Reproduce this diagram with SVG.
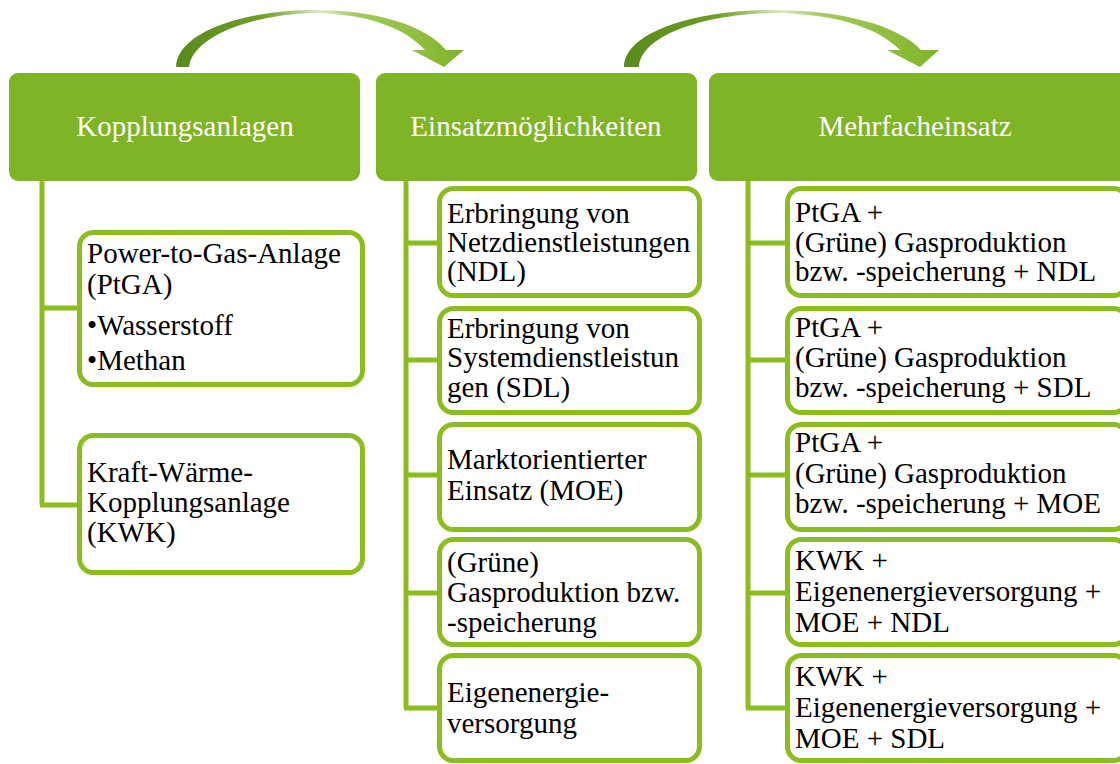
<svg xmlns="http://www.w3.org/2000/svg" width="1120" height="764" viewBox="0 0 1120 764" font-family="'Times New Roman', 'Liberation Serif', serif">
  <style>
    .head rect { fill: #80b427; }
    .head text { fill: #ffffff; font-family: 'Times New Roman', 'Liberation Serif', serif; font-size: 29px; text-anchor: middle; }
    .item rect { fill: #ffffff; stroke: #8cbd1f; stroke-width: 5; }
    .item text { fill: #000000; font-family: 'Times New Roman', 'Liberation Serif', serif; font-size: 29px; }
    .conn { fill: none; stroke: #8cbd1f; stroke-width: 5; }
  </style>
  <defs>
    <linearGradient id="arcGrad" x1="0" y1="0" x2="1" y2="0">
      <stop offset="0" stop-color="#5a8a1b"/>
      <stop offset="0.3" stop-color="#6e9d28"/>
      <stop offset="0.5" stop-color="#dcebc4"/>
      <stop offset="0.62" stop-color="#a6cb5e"/>
      <stop offset="1" stop-color="#7fb427"/>
    </linearGradient>
  </defs>

  <!-- curved flow arrows between the column headers -->
  <g id="flow-arrows">
    <path fill="url(#arcGrad)" d="M176,67 C177,32 245,10 315,10 C375,10 425,25 446,50 L464,50 L444,67 L412,50 L425,50 C405,28 368,14 315,13 C255,14 193,35 189,67 Z"/>
    <path fill="url(#arcGrad)" d="M624,67 C625,32 695,10 774,10 C840,10 898,25 921,50 L939,50 L920,67 L887,50 L900,50 C878,28 838,14 774,13 C705,14 641,35 639,67 Z"/>
  </g>

  <!-- tree connectors -->
  <g id="connectors">
    <path class="conn" d="M42,181 V505 M40,308 H79 M40,505 H79"/>
    <path class="conn" d="M406,181 V708 M404,243 H439 M404,360 H439 M404,475 H439 M404,593 H439 M404,708 H439"/>
    <path class="conn" d="M748,181 V708 M746,243 H787 M746,360 H787 M746,475 H787 M746,593 H787 M746,708 H787"/>
  </g>

  <!-- column headers -->
  <g id="h-kopplung" class="head">
    <rect x="9" y="73" width="351" height="108" rx="9"/>
    <text x="185" y="136">Kopplungsanlagen</text>
  </g>
  <g id="h-einsatz" class="head">
    <rect x="376" y="73" width="321" height="108" rx="9"/>
    <text x="536" y="136">Einsatzmöglichkeiten</text>
  </g>
  <g id="h-mehrfach" class="head">
    <rect x="709" y="73" width="420" height="108" rx="9"/>
    <text x="915" y="136">Mehrfacheinsatz</text>
  </g>

  <!-- column 1 -->
  <g id="n-ptga" class="item">
    <rect x="79.5" y="232.5" width="283" height="152" rx="14"/>
    <text x="87" y="263">Power-to-Gas-Anlage</text>
    <text x="87" y="294">(PtGA)</text>
    <text x="87" y="335">•Wasserstoff</text>
    <text x="87" y="370">•Methan</text>
  </g>
  <g id="n-kwk" class="item">
    <rect x="79.5" y="435.5" width="283" height="137" rx="14"/>
    <text x="87" y="482">Kraft-Wärme-</text>
    <text x="87" y="512">Kopplungsanlage</text>
    <text x="87" y="542">(KWK)</text>
  </g>

  <!-- column 2 -->
  <g id="n-ndl" class="item">
    <rect x="439.5" y="188.5" width="260" height="107" rx="14"/>
    <text x="447" y="223">Erbringung von</text>
    <text x="447" y="252">Netzdienstleistungen</text>
    <text x="447" y="281">(NDL)</text>
  </g>
  <g id="n-sdl" class="item">
    <rect x="439.5" y="308.5" width="260" height="104" rx="14"/>
    <text x="447" y="338">Erbringung von</text>
    <text x="447" y="367">Systemdienstleistun</text>
    <text x="447" y="397">gen (SDL)</text>
  </g>
  <g id="n-moe" class="item">
    <rect x="439.5" y="424.5" width="260" height="105" rx="14"/>
    <text x="447" y="469">Marktorientierter</text>
    <text x="447" y="500">Einsatz (MOE)</text>
  </g>
  <g id="n-gas" class="item">
    <rect x="439.5" y="539.5" width="260" height="105" rx="14"/>
    <text x="447" y="572">(Grüne)</text>
    <text x="447" y="602">Gasproduktion bzw.</text>
    <text x="447" y="632">-speicherung</text>
  </g>
  <g id="n-eigen" class="item">
    <rect x="439.5" y="655.5" width="260" height="105" rx="14"/>
    <text x="447" y="702">Eigenenergie-</text>
    <text x="447" y="733">versorgung</text>
  </g>

  <!-- column 3 -->
  <g id="m-ptga-ndl" class="item">
    <rect x="787.5" y="188.5" width="340" height="107" rx="14"/>
    <text x="795" y="222">PtGA +</text>
    <text x="795" y="252">(Grüne) Gasproduktion</text>
    <text x="795" y="281">bzw. -speicherung + NDL</text>
  </g>
  <g id="m-ptga-sdl" class="item">
    <rect x="787.5" y="308.5" width="340" height="104" rx="14"/>
    <text x="795" y="337">PtGA +</text>
    <text x="795" y="367">(Grüne) Gasproduktion</text>
    <text x="795" y="397">bzw. -speicherung + SDL</text>
  </g>
  <g id="m-ptga-moe" class="item">
    <rect x="787.5" y="424.5" width="340" height="105" rx="14"/>
    <text x="795" y="452">PtGA +</text>
    <text x="795" y="483">(Grüne) Gasproduktion</text>
    <text x="795" y="513">bzw. -speicherung + MOE</text>
  </g>
  <g id="m-kwk-ndl" class="item">
    <rect x="787.5" y="539.5" width="340" height="105" rx="14"/>
    <text x="795" y="570">KWK +</text>
    <text x="795" y="601">Eigenenergieversorgung +</text>
    <text x="795" y="632">MOE + NDL</text>
  </g>
  <g id="m-kwk-sdl" class="item">
    <rect x="787.5" y="655.5" width="340" height="105" rx="14"/>
    <text x="795" y="686">KWK +</text>
    <text x="795" y="717">Eigenenergieversorgung +</text>
    <text x="795" y="748">MOE + SDL</text>
  </g>
</svg>
